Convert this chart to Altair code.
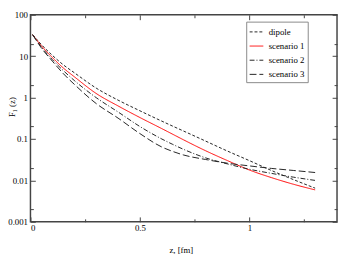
import altair as alt
import pandas as pd

z = [0.01, 0.05, 0.1, 0.15, 0.2, 0.3, 0.4, 0.5, 0.6, 0.65, 0.7, 0.8, 0.9, 1.0, 1.1, 1.2, 1.3]
dipole = [33.1, 19.1, 10.5, 6.2, 4.0, 1.7, 0.87, 0.48, 0.27, 0.204, 0.155, 0.089, 0.051, 0.030, 0.0174, 0.0105, 0.0065]
scenario1 = [33.1, 17.8, 9.3, 5.2, 3.2, 1.26, 0.63, 0.33, 0.178, 0.130, 0.095, 0.052, 0.030, 0.0178, 0.0117, 0.0081, 0.0059]
scenario2 = [33.1, 16.6, 8.3, 4.5, 2.6, 1.0, 0.45, 0.20, 0.10, 0.074, 0.056, 0.035, 0.025, 0.0186, 0.0148, 0.012, 0.010]
scenario3 = [33.1, 15.8, 7.6, 3.8, 2.1, 0.72, 0.32, 0.135, 0.064, 0.050, 0.041, 0.032, 0.026, 0.0224, 0.0195, 0.0174, 0.0155]
series = ["dipole", "scenario 1", "scenario 2", "scenario 3"]

x_major = [0, 0.5, 1]
x_minor = [0.25, 0.75, 1.25]
y_major = [0.001, 0.01, 0.1, 1, 10, 100]
y_minor = [0.002, 0.02, 0.2, 2, 20]

rows = []
for name, vals in zip(series, [dipole, scenario1, scenario2, scenario3]):
    for zz, v in zip(z, vals):
        rows.append({"z": zz, "F": v, "series": name})
df = pd.DataFrame(rows)

W, H = 314, 212
FONT = "Liberation Serif"
FRAME = "#444444"

xs = alt.Scale(domain=[0, 1.4], nice=False, zero=False)
ys = alt.Scale(type="log", domain=[0.001, 100], nice=False)

lines = alt.Chart(df).mark_line(strokeWidth=1, interpolate="monotone").encode(
    x=alt.X("z:Q", scale=xs, axis=alt.Axis(
        values=x_major, format="~g", title="z, [fm]", orient="bottom",
        tickSize=0, domain=False, grid=False, labelPadding=2,
        labelFont=FONT, labelFontSize=9, labelColor="black",
        titleFont=FONT, titleFontSize=9, titleFontWeight="normal", titleColor="black",
        titleX=154, titleY=31, titleBaseline="alphabetic", titleAnchor="middle")),
    y=alt.Y("F:Q", scale=ys, axis=alt.Axis(
        values=y_major, format="~g", title="F₁ (z)", orient="left",
        tickSize=0, domain=False, grid=False, labelPadding=3,
        labelFont=FONT, labelFontSize=9, labelColor="black",
        titleFont=FONT, titleFontSize=9, titleFontWeight="normal", titleColor="black",
        titleX=-16, titleY=94, titleAngle=270, titleBaseline="alphabetic", titleAlign="center")),
    color=alt.Color("series:N", scale=alt.Scale(domain=series, range=["#222222", "#ff0000", "#222222", "#222222"]),
                    legend=alt.Legend(title=None)),
    strokeDash=alt.StrokeDash("series:N", scale=alt.Scale(domain=series, range=[[3, 2], [1, 0], [5, 2, 1, 2], [7, 3]]),
                              legend=alt.Legend(title=None)),
)


def tick_layer(xvals, yvals, xorient, yorient, size):
    return alt.Chart(df).mark_point(opacity=0).encode(
        x=alt.X("z:Q", scale=xs, axis=alt.Axis(
            values=xvals, orient=xorient, offset=-H, labels=False, domain=False, grid=False,
            title=None, tickSize=size, tickColor=FRAME, tickWidth=1)),
        y=alt.Y("F:Q", scale=ys, axis=alt.Axis(
            values=yvals, orient=yorient, offset=-W, labels=False, domain=False, grid=False,
            title=None, tickSize=size, tickColor=FRAME, tickWidth=1)),
    )


chart = alt.layer(
    lines,
    tick_layer(x_major, y_major, "top", "right", 5),
    tick_layer(x_minor, y_minor, "top", "right", 3),
    tick_layer(x_major, y_major, "bottom", "left", 5),
    tick_layer(x_minor, y_minor, "bottom", "left", 3),
).resolve_axis(x="independent", y="independent").properties(
    width=W, height=H,
    autosize=alt.AutoSizeParams(type="none"),
    padding={"left": 23, "top": 4, "right": 1, "bottom": 30},
).configure_view(
    stroke=FRAME, strokeWidth=1.5
).configure_legend(
    orient="none", legendX=221, legendY=7,
    strokeColor="#888888", fillColor="white", padding=3,
    symbolType="stroke", symbolSize=196, symbolStrokeWidth=1,
    labelFont=FONT, labelFontSize=9, labelColor="black", labelOffset=5,
    rowPadding=1.5, cornerRadius=0,
)

chart.save("out.html", embed_options={"renderer": "svg", "actions": False})
